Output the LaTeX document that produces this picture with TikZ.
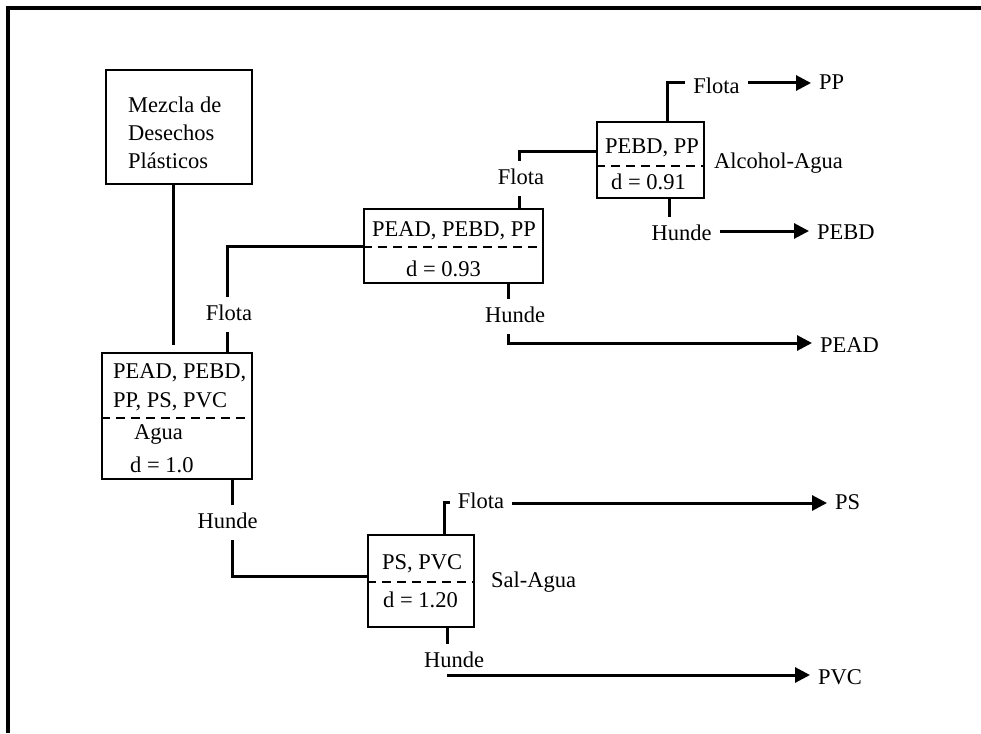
\documentclass[tikz,border=0pt]{standalone}
\usepackage{fontspec}
\setmainfont{Liberation Serif}
\usetikzlibrary{arrows.meta}
\begin{document}
\begin{tikzpicture}[x=1pt,y=-1pt,
  every node/.style={font=\fontsize{22.5}{27}\selectfont},
  box/.style={draw, line width=1.9pt, inner sep=0pt},
  txt/.style={inner sep=0pt, anchor=base west},
  lab/.style={inner sep=8pt, text height=15pt, text depth=4pt, anchor=base},
  res/.style={inner sep=8pt, anchor=base west},
  conn/.style={line width=3pt},
  arr/.style={line width=3pt, -{Triangle[length=15pt,width=15pt]}},
  dsh/.style={line width=1.6pt, dash pattern=on 9pt off 6pt}]
\useasboundingbox (0,0) rectangle (981,733);
\draw[line width=3.2pt] (8,733) -- (8,8) -- (981,8);

% boxes
\node[box, minimum width=146pt, minimum height=114pt] (mez) at (179,127) {};
\node[box, minimum width=150pt, minimum height=126pt] (agua) at (177,416) {};
\node[box, minimum width=179pt, minimum height=74pt] (b2) at (453.5,246) {};
\node[box, minimum width=107pt, minimum height=76pt] (b3) at (650.5,160) {};
\node[box, minimum width=106pt, minimum height=92pt] (b4) at (421,581) {};

% helper coordinates
\coordinate (yA) at (0,418);
\coordinate (yB) at (0,247);
\coordinate (yC) at (0,166);
\coordinate (yD) at (0,582);
\coordinate (xm) at (173,0);
\coordinate (mEnd) at (173,345);
\coordinate (xF1) at (227,0);
\coordinate (xH1) at (232,0);
\coordinate (k4) at (232,576);
\coordinate (k2) at (519,151);
\coordinate (xH2) at (508,0);
\coordinate (k5) at (508,343);
\coordinate (k3) at (667,83);
\coordinate (xH3) at (669,0);
\coordinate (yPEBD) at (0,231);
\coordinate (k6) at (444,502);
\coordinate (yPS) at (0,503);
\coordinate (xH4) at (447,0);
\coordinate (k7) at (447,675);

% dashed dividers
\draw[dsh] (agua.west |- yA) -- (agua.east |- yA);
\draw[dsh] (b2.west |- yB) -- (b2.east |- yB);
\draw[dsh] (b3.west |- yC) -- (b3.east |- yC);
\draw[dsh] (b4.west |- yD) -- (b4.east |- yD);

% box texts
\node[txt] (m1) at (128,112) {Mezcla de};
\node[txt] (m2) at (128,140) {Desechos};
\node[txt] (m3) at (128,168) {Plásticos};
\node[txt] (a1) at (113,378) {PEAD, PEBD,};
\node[txt] (a2) at (113,407) {PP, PS, PVC};
\node[txt] (a3) at (134,439) {Agua};
\node[txt] (a4) at (130,472) {d = 1.0};
\node[txt] (c1) at (372,236) {PEAD, PEBD, PP};
\node[txt] (c2) at (406,276) {d = 0.93};
\node[txt] (e1) at (605,153) {PEBD, PP};
\node[txt] (e2) at (611,189) {d = 0.91};
\node[txt] (g1) at (382,569) {PS, PVC};
\node[txt] (g2) at (383,607) {d = 1.20};
\node[txt] (alc) at (714,168) {Alcohol-Agua};
\node[txt] (sal) at (491,587) {Sal-Agua};

% labels
\node[lab] (fl1) at (229,320) {Flota};
\node[lab] (hu1) at (227.5,528) {Hunde};
\node[lab] (fl2) at (521,184) {Flota};
\node[lab] (hu2) at (515,322) {Hunde};
\node[lab] (fl3) at (716.5,94) {Flota};
\node[lab] (hu3) at (681.5,240) {Hunde};
\node[lab] (fl4) at (481,508) {Flota};
\node[lab] (hu4) at (454,667) {Hunde};

% results
\node[res] (pp) at (811,90) {PP};
\node[res] (pebd) at (809,239) {PEBD};
\node[res] (pead) at (812,352) {PEAD};
\node[res] (ps) at (827,509) {PS};
\node[res] (pvc) at (810,684) {PVC};

% connectors
\draw[conn] (mez.south -| xm) -- (mEnd);
\draw[conn] (agua.north -| xF1) -- (fl1.south -| xF1);
\draw[conn] (fl1.north -| xF1) |- (b2.west);
\draw[conn] (agua.south -| xH1) -- (hu1.north -| xH1);
\draw[conn] (hu1.south -| xH1) |- (b4.west |- k4);
\draw[conn] (b2.north -| k2) -- (fl2.south -| k2);
\draw[conn] (fl2.north -| k2) |- (b3.west |- k2);
\draw[conn] (b2.south -| xH2) -- (hu2.north -| xH2);
\draw[arr] (hu2.south -| xH2) |- (pead.west |- k5);
\draw[conn] (b3.north -| k3) |- (fl3.west |- k3);
\draw[arr] (fl3.east |- k3) -- (pp.west |- k3);
\draw[conn] (b3.south -| xH3) -- (hu3.north -| xH3);
\draw[arr] (hu3.east |- yPEBD) -- (pebd.west |- yPEBD);
\draw[conn] (b4.north -| k6) |- (fl4.west |- k6);
\draw[arr] (fl4.east |- yPS) -- (ps.west |- yPS);
\draw[conn] (b4.south -| xH4) -- (hu4.north -| xH4);
\draw[arr] (k7) -- (pvc.west |- k7);
\end{tikzpicture}
\end{document}
